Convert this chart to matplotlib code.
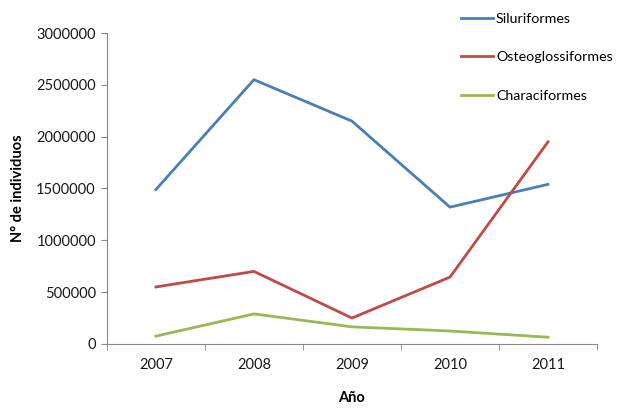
import matplotlib.pyplot as plt
import numpy as np

# Data
years = ['2007', '2008', '2009', '2010', '2011']
siluriformes = [1490000, 2550000, 2150000, 1320000, 1540000]
osteoglossiformes = [550000, 700000, 250000, 645000, 1950000]
characiformes = [75000, 290000, 165000, 125000, 65000]

colors = {'silu': '#4A7EBB', 'osteo': '#BE4B48', 'chara': '#98B954'}

plt.rcParams['font.family'] = ['Lato', 'DejaVu Sans']

fig = plt.figure(figsize=(6.18, 4.08), dpi=100)
ax = fig.add_axes([0.173, 0.157, 0.793, 0.762])

x = np.arange(len(years))
ax.plot(x, siluriformes, color=colors['silu'], lw=2.0, label='Siluriformes')
ax.plot(x, osteoglossiformes, color=colors['osteo'], lw=2.0, label='Osteoglossiformes')
ax.plot(x, characiformes, color=colors['chara'], lw=2.0, label='Characiformes')

ax.set_xlim(-0.5, len(years) - 0.5)
ax.set_ylim(0, 3000000)
ax.set_yticks(np.arange(0, 3000001, 500000))
ax.set_yticklabels([f'{int(v)}' for v in np.arange(0, 3000001, 500000)])
ax.set_xticks(x)
ax.set_xticklabels(years)
ax.set_xticks(np.arange(-0.5, len(years), 1.0), minor=True)
ax.tick_params(axis='x', which='major', length=0, pad=10, labelsize=10.5, labelcolor='#1a1a1a')
ax.tick_params(axis='x', which='minor', length=4, color='#888888', direction='out')
ax.tick_params(axis='y', length=4, color='#888888', labelsize=10.5, pad=4, labelcolor='#1a1a1a')

for side in ['top', 'right']:
    ax.spines[side].set_visible(False)
for side in ['left', 'bottom']:
    ax.spines[side].set_color('#888888')

ax.set_ylabel('N° de individuos', fontweight='bold', fontsize=10.5, labelpad=8)
ax.set_xlabel('Año', fontweight='bold', fontsize=10.5, labelpad=14)

leg = fig.legend(loc='upper left', bbox_to_anchor=(0.732, 0.99), frameon=False,
                 fontsize=10.3, handlelength=2.25, handletextpad=0.2, labelspacing=1.85,
                 borderaxespad=0.2)

fig.savefig('out.png', dpi=100)
